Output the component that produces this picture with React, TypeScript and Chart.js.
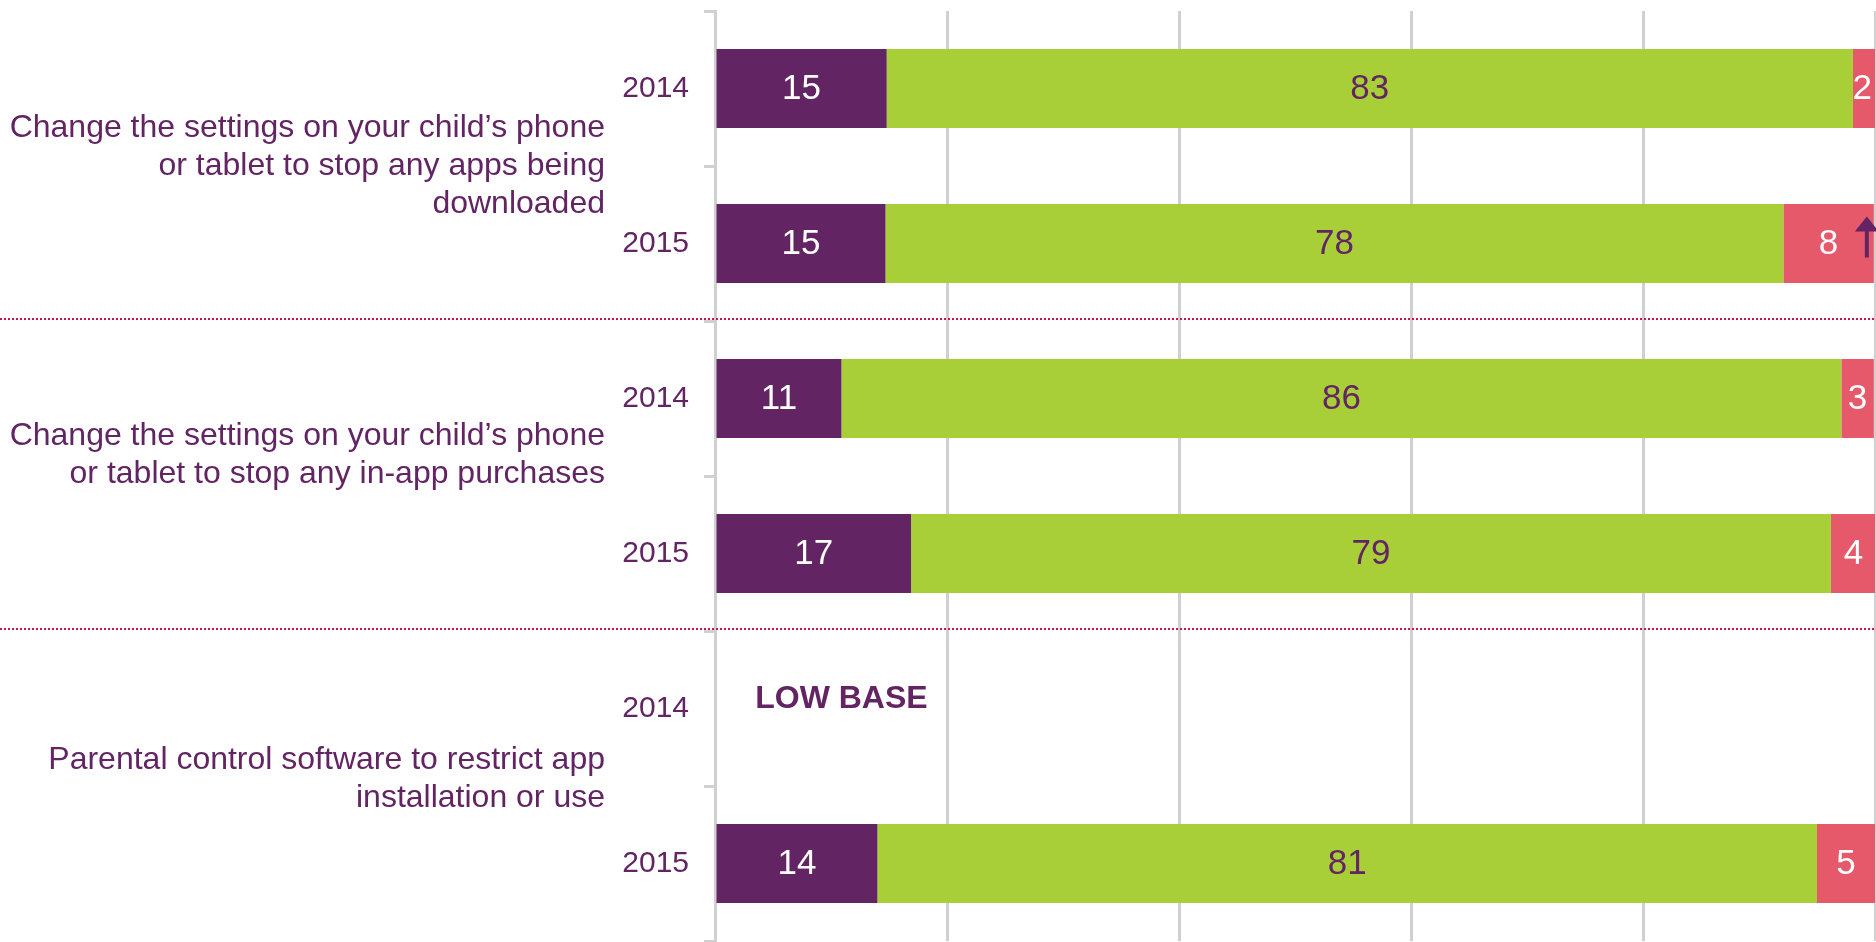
import React, { useEffect, useRef } from "react";
import { Chart, registerables } from "chart.js";

Chart.register(...registerables);

const categories = ["2014", "2015", "2014", "2015", "2014", "2015"];
const groupLabels = [
  ["Change the settings on your child\u2019s phone", "or tablet to stop any apps being", "downloaded"],
  ["Change the settings on your child\u2019s phone", "or tablet to stop any in-app purchases"],
  ["Parental control software to restrict app", "installation or use"],
];
const seriesNames = ["Yes", "No", "Don't know"];
const purpleValues = [14.8, 14.7, 10.9, 16.9, null, 14.0];
const greenValues = [83.3, 77.4, 86.2, 79.3, null, 81.0];
const redValues = [1.9, 7.8, 2.8, 3.9, null, 5.0];
const purpleLabels = ["15", "15", "11", "17", "", "14"];
const greenLabels = ["83", "78", "86", "79", "", "81"];
const redLabels = ["2", "8", "3", "4", "", "5"];
const lowBaseText = "LOW BASE";
const lowBaseIndex = 4;
const arrowUpIndex = 1;
const xTicks = [0, 20, 40, 60, 80, 100];

const PURPLE = "#622463";
const GREEN = "#a8cf38";
const RED = "#e6596b";
const GRID = "#d0d0d0";
const DOT = "#d0104f";
const FONT = "'Liberation Sans', Arial, sans-serif";

const labelSets = [purpleLabels, greenLabels, redLabels];
const labelColors = ["#ffffff", PURPLE, "#ffffff"];

const overlayPlugin = {
  id: "overlay",
  afterDatasetsDraw(chart: any) {
    const ctx = chart.ctx;
    const yScale = chart.scales.y;
    const xScale = chart.scales.x;
    ctx.save();
    // value labels
    ctx.font = `35px ${FONT}`;
    ctx.textAlign = "center";
    ctx.textBaseline = "middle";
    chart.data.datasets.forEach((ds: any, di: number) => {
      const meta = chart.getDatasetMeta(di);
      meta.data.forEach((el: any, i: number) => {
        const txt = labelSets[di][i];
        if (!txt) return;
        const p = el.getProps(["x", "base", "y"], true);
        ctx.fillStyle = labelColors[di];
        const w = ctx.measureText(txt).width;
        let cx = (p.x + p.base) / 2;
        if (cx + w / 2 > chart.width - 4) cx = chart.width - 4 - w / 2;
        ctx.fillText(txt, cx, p.y + 1);
      });
    });
    // arrow in red segment
    const redMeta = chart.getDatasetMeta(2);
    const rel = redMeta.data[arrowUpIndex];
    if (rel) {
      const p = rel.getProps(["x", "y"], true);
      const ax = p.x - 7;
      ctx.fillStyle = PURPLE;
      ctx.beginPath();
      ctx.moveTo(ax, p.y - 27);
      ctx.lineTo(ax + 12, p.y - 12);
      ctx.lineTo(ax - 12, p.y - 12);
      ctx.closePath();
      ctx.fill();
      ctx.fillRect(ax - 2, p.y - 13, 4, 27);
    }
    // LOW BASE
    ctx.font = `bold 32px ${FONT}`;
    ctx.fillStyle = PURPLE;
    ctx.textAlign = "center";
    ctx.fillText(lowBaseText, xScale.getPixelForValue(10.9), yScale.getPixelForValue(lowBaseIndex) - 9);
    // dotted separators
    ctx.strokeStyle = DOT;
    ctx.lineWidth = 2;
    ctx.setLineDash([2, 2]);
    [1, 3].forEach((i) => {
      const y = (yScale.getPixelForValue(i) + yScale.getPixelForValue(i + 1)) / 2 - 2;
      ctx.beginPath();
      ctx.moveTo(0, y);
      ctx.lineTo(chart.width, y);
      ctx.stroke();
    });
    ctx.setLineDash([]);
    // group labels
    const offsets = [0, -21, -7];
    ctx.font = `32px ${FONT}`;
    ctx.fillStyle = PURPLE;
    ctx.textAlign = "right";
    ctx.textBaseline = "middle";
    const lh = 38;
    groupLabels.forEach((lines, g) => {
      const yc = (yScale.getPixelForValue(g * 2) + yScale.getPixelForValue(g * 2 + 1)) / 2 + offsets[g];
      const start = yc - ((lines.length - 1) * lh) / 2;
      lines.forEach((ln, k) => {
        ctx.fillText(ln, 605, start + k * lh);
      });
    });
    ctx.restore();
  },
};

export default function App() {
  const ref = useRef<HTMLCanvasElement | null>(null);
  useEffect(() => {
    if (!ref.current) return;
    const chart = new Chart(ref.current, {
      type: "bar",
      data: {
        labels: categories,
        datasets: [
          { label: seriesNames[0], data: purpleValues, backgroundColor: PURPLE },
          { label: seriesNames[1], data: greenValues, backgroundColor: GREEN },
          { label: seriesNames[2], data: redValues, backgroundColor: RED },
        ],
      },
      options: {
        indexAxis: "y",
        animation: false,
        responsive: false,
        devicePixelRatio: 1,
        layout: { padding: { top: 11, bottom: 1, left: 0, right: 1 } },
        datasets: { bar: { categoryPercentage: 1, barPercentage: 0.51, borderWidth: 0 } },
        plugins: { legend: { display: false }, tooltip: { enabled: false }, title: { display: false } },
        scales: {
          x: {
            stacked: true,
            min: 0,
            max: 100,
            afterBuildTicks: (scale: any) => {
              scale.ticks = xTicks.map((v) => ({ value: v }));
            },
            afterFit: (scale: any) => {
              scale.height = 0;
              scale.paddingLeft = 0;
              scale.paddingRight = 0;
            },
            ticks: { display: false },
            grid: { color: GRID, lineWidth: 3, drawTicks: false },
            border: { display: false },
          },
          y: {
            stacked: true,
            afterFit: (scale: any) => {
              scale.width = 715;
              scale.paddingTop = 0;
              scale.paddingBottom = 0;
            },
            ticks: {
              color: PURPLE,
              font: { family: FONT, size: 30 },
              padding: 15,
            },
            grid: {
              offset: true,
              drawOnChartArea: false,
              drawTicks: true,
              tickLength: 11,
              color: GRID,
              lineWidth: 3,
            },
            border: { display: true, color: GRID, width: 3 },
          },
        },
      },
      plugins: [overlayPlugin],
    } as any);
    return () => chart.destroy();
  }, []);
  return (
    <div style={{ position: "absolute", left: 0, top: 0, width: 1876, height: 942, background: "#fff" }}>
      <canvas ref={ref} width={1876} height={942} />
    </div>
  );
}
